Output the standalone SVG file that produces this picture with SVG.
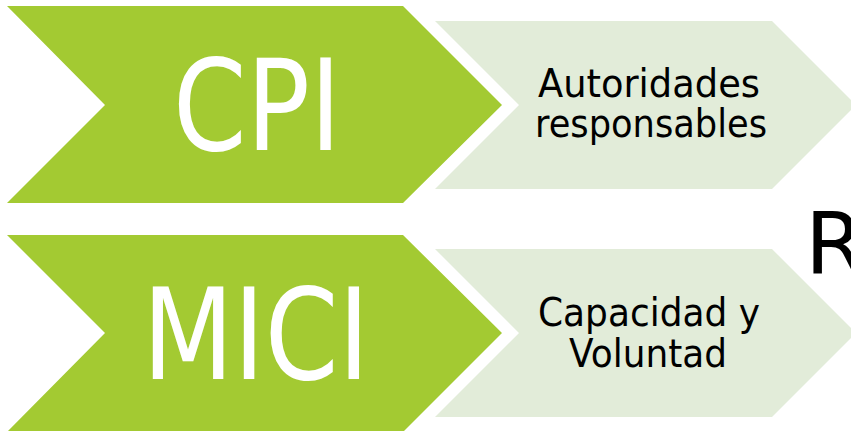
<svg xmlns="http://www.w3.org/2000/svg" width="851" height="431" viewBox="0 0 851 431">
<style>
.main{fill:#A3CA32}
.sub{fill:#E2ECD9}
.big{font-family:"DejaVu Sans","Liberation Sans",sans-serif;fill:#FFFFFF;text-anchor:middle}
.lbl{font-family:"DejaVu Sans","Liberation Sans",sans-serif;fill:#000000;font-size:39px;text-anchor:middle}
</style>
<rect width="851" height="431" fill="#FFFFFF"/>
<g id="sub1">
<polygon class="sub" points="435,21 772,21 856,105 772,189 435,189 519,105"/>
<text class="lbl" x="649" y="97" textLength="222" lengthAdjust="spacingAndGlyphs">Autoridades</text>
<text class="lbl" x="651" y="137" textLength="232" lengthAdjust="spacingAndGlyphs">responsables</text>
</g>
<g id="cpi">
<polygon class="main" points="7,6 403,6 502,105 403,203 7,203 105,105"/>
<text class="big" x="257" y="150" font-size="127" textLength="168" lengthAdjust="spacingAndGlyphs">CPI</text>
</g>
<g id="sub2">
<polygon class="sub" points="435,249 772,249 856,333 772,417 435,417 519,333"/>
<text class="lbl" x="649" y="326" textLength="222" lengthAdjust="spacingAndGlyphs">Capacidad y</text>
<text class="lbl" x="648" y="367" textLength="158" lengthAdjust="spacingAndGlyphs">Voluntad</text>
</g>
<g id="mici">
<polygon class="main" points="7,235 403,235 502,333 403,432 7,432 105,333"/>
<text class="big" x="256" y="379" font-size="127" textLength="227" lengthAdjust="spacingAndGlyphs">MICI</text>
</g>
<g id="connectors"></g>
<text x="805" y="273" font-family="DejaVu Sans,Liberation Sans,sans-serif" font-size="86" fill="#000000">R</text>
</svg>
